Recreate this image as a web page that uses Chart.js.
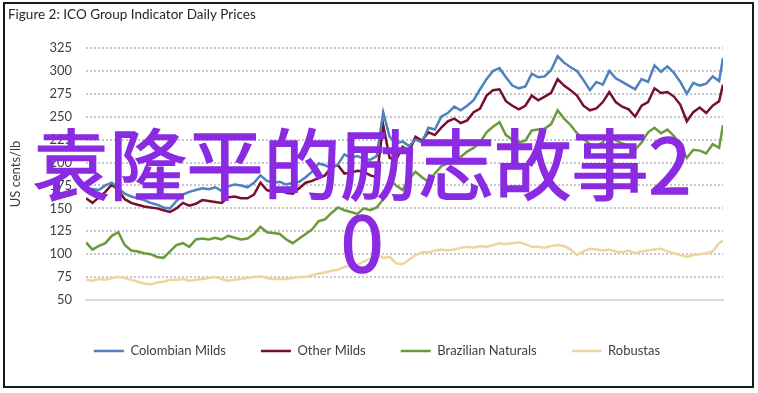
<!DOCTYPE html>
<html>
<head>
<meta charset="utf-8">
<script src="https://cdn.jsdelivr.net/npm/chart.js@4"></script>
<style>
    html, body { margin: 0; padding: 0; background: #fff; }
    #wrap { position: relative; width: 758px; height: 393px; }
    #frame {
        position: absolute; left: 3px; top: 2px; width: 747px; height: 382px;
        border: 2px solid #1a1a1a; pointer-events: none;
    }
    #overlay {
        position: absolute; left: 0; top: 122px; width: 724px;
        text-align: center; font-family: "Noto Sans CJK SC"; font-size: 77px;
        line-height: 78px; color: #8a2be2; white-space: nowrap;
        -webkit-text-stroke: 1.5px #8a2be2;
    }
</style>
</head>
<body>
<div id="wrap">
    <canvas id="chart" width="758" height="393"></canvas>
    <div id="frame"></div>
    <div id="overlay">袁隆平的励志故事2<br>0</div>
</div>
<script>
const tickLabels = ["Aug-20", "Nov-20", "Feb-21", "May-21", "Aug-21", "Nov-21", "Feb-22", "May-22", "Aug-22"];
const tickMonths = [0, 3, 6, 9, 12, 15, 18, 21, 24];
const lastMonth = 24.65; // last reading, late Aug-22

const seriesNames = ["Colombian Milds", "Other Milds", "Brazilian Naturals", "Robustas"];
const seriesColors = ["#4f81bd", "#77102a", "#6a9a3a", "#eed5a0"];

// weekly readings, US cents/lb
const colombianMilds = [
    168, 171, 170, 175, 178, 172, 166, 163, 161, 159,
    156, 154, 151, 150, 158, 165, 168, 170, 172, 171,
    173, 169, 174, 176, 175, 173, 178, 186, 180, 178,
    179, 176, 178, 179, 184, 190, 199, 197, 194, 198,
    209, 205, 207, 204, 203, 207, 255, 228, 221, 223,
    218, 225, 222, 238, 236, 250, 254, 261, 257, 262,
    268, 280, 291, 300, 303, 293, 284, 281, 283, 297,
    293, 294, 301, 316, 309, 304, 300, 290, 279, 288,
    285, 300, 292, 288, 284, 280, 291, 288, 306, 299,
    305, 298, 288, 275, 287, 284, 286, 294, 289, 314
];
const otherMilds = [
    161, 156, 162, 168, 176, 170, 160, 156, 154, 152,
    151, 150, 148, 146, 150, 156, 153, 155, 159, 158,
    157, 156, 162, 163, 161, 161, 165, 178, 170, 168,
    170, 167, 166, 172, 178, 180, 183, 186, 195, 197,
    188, 189, 191, 190, 186, 184, 241, 205, 203, 217,
    212, 228, 224, 233, 230, 238, 245, 248, 243, 246,
    255, 259, 273, 279, 280, 267, 262, 258, 262, 273,
    268, 272, 276, 291, 284, 279, 273, 262, 257, 259,
    266, 277, 266, 261, 258, 250, 262, 266, 281, 276,
    277, 272, 263, 245, 255, 260, 254, 262, 267, 285
];
const brazilianNaturals = [
    113, 105, 109, 112, 120, 124, 110, 104, 103, 101,
    100, 97, 96, 103, 110, 112, 108, 116, 117, 116,
    118, 116, 120, 118, 116, 117, 122, 130, 124, 123,
    122, 116, 112, 117, 122, 127, 136, 138, 145, 151,
    148, 146, 144, 150, 148, 151, 160, 181, 175, 170,
    182, 190, 184, 179, 188, 196, 199, 201, 206, 212,
    216, 222, 233, 239, 244, 230, 225, 222, 224, 235,
    236, 237, 242, 257, 248, 241, 232, 226, 220, 218,
    222, 233, 224, 221, 218, 214, 222, 233, 238, 232,
    236, 229, 219, 205, 214, 213, 210, 220, 216, 241
];
const robustas = [
    72, 71, 73, 72, 74, 75, 74, 72, 70, 68,
    67, 69, 70, 72, 72, 73, 71, 72, 73, 74,
    75, 73, 71, 72, 73, 74, 75, 76, 74, 73,
    73, 73, 74, 75, 75, 77, 79, 80, 82, 83,
    86, 87, 88, 92, 95, 100, 96, 97, 90, 89,
    94, 99, 102, 102, 104, 105, 104, 105, 107, 108,
    107, 109, 108, 110, 112, 111, 112, 113, 111, 108,
    108, 107, 109, 110, 109, 105, 99, 103, 106, 105,
    104, 105, 103, 102, 104, 101, 103, 104, 105, 106,
    103, 101, 99, 97, 99, 100, 101, 103, 112, 115
];

const seriesValues = [colombianMilds, otherMilds, brazilianNaturals, robustas];
// one reading a week, in months after 1 Aug 2020
const weekMonths = colombianMilds.map((_, k) => Math.min(k / 4, lastMonth));

const textColor = "#404040";
const baseFont = { family: "Lato", size: 13 };

new Chart(document.getElementById("chart"), {
    type: "line",
    data: {
        datasets: seriesNames.map((name, i) => ({
            label: name,
            data: seriesValues[i].map((v, k) => ({ x: weekMonths[k], y: v })),
            borderColor: seriesColors[i],
            backgroundColor: seriesColors[i],
            borderWidth: 2.5,
            pointRadius: 0,
            tension: 0,
        })),
    },
    options: {
        responsive: false,
        animation: false,
        layout: { padding: { left: 8, right: 12, top: 0, bottom: 25.5 } },
        plugins: {
            title: {
                display: true,
                text: "Figure 2: ICO Group Indicator Daily Prices",
                align: "start",
                color: "#262626",
                font: { family: "Lato", size: 13.5, weight: "normal" },
                padding: { top: 7, bottom: 24.8 },
            },
            legend: {
                position: "bottom",
                labels: {
                    usePointStyle: true,
                    pointStyle: "line",
                    pointStyleWidth: 30,
                    padding: 35,
                    color: textColor,
                    font: baseFont,
                },
            },
            tooltip: { enabled: false },
        },
        scales: {
            x: {
                type: "linear",
                min: 0,
                max: lastMonth,
                afterBuildTicks: (scale) => {
                    scale.ticks = tickMonths.map((m) => ({ value: m }));
                },
                afterFit: (scale) => {
                    scale.height = 9.5;
                },
                grid: { display: false, drawTicks: false },
                border: { display: true, color: "#d9d9d9", width: 2 },
                ticks: {
                    callback: (value) => tickLabels[tickMonths.indexOf(value)],
                    color: textColor,
                    font: { family: "Lato", size: 12.5 },
                    padding: 10,
                    maxRotation: 0,
                    autoSkip: false,
                },
            },
            y: {
                min: 50,
                max: 325,
                afterFit: (scale) => {
                    scale.width = 78;
                },
                ticks: { stepSize: 25, color: textColor, font: baseFont, padding: 14 },
                grid: { color: "#c8c8c8", lineWidth: 2, drawTicks: false },
                border: { display: false, dash: [2, 2] },
                title: {
                    display: true,
                    text: "US cents/lb",
                    color: textColor,
                    font: baseFont,
                    padding: 0,
                },
            },
            // empty right-hand axis, keeps the legend centred like the original
            yRight: {
                position: "right",
                display: true,
                afterFit: (scale) => {
                    scale.width = 23;
                },
                ticks: { display: false },
                grid: { display: false, drawTicks: false },
                border: { display: false },
            },
        },
    },
});
</script>
</body>
</html>
